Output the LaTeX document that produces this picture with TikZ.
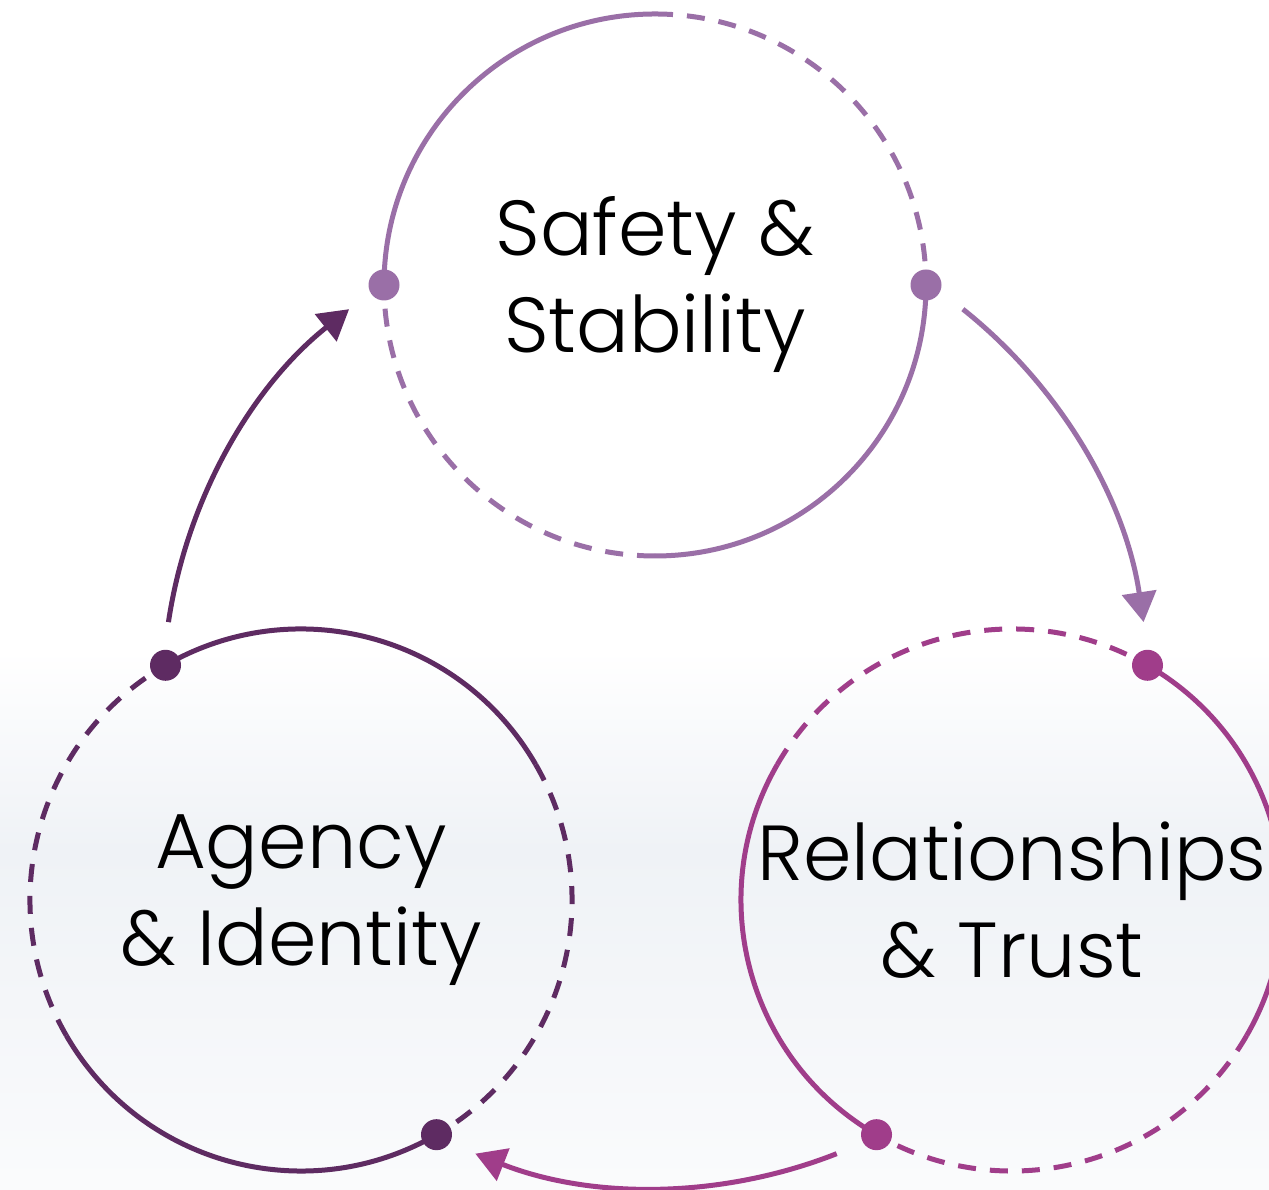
\documentclass[tikz,border=0pt]{standalone}
\usepackage{fontspec}
\setmainfont{Poppins}[UprightFont=* Light]
\usetikzlibrary{arrows.meta, positioning, calc}

\definecolor{safetyc}{HTML}{9A6FA7}
\definecolor{agencyc}{HTML}{5E2B62}
\definecolor{relatc}{HTML}{A03D8A}
\definecolor{hazec}{HTML}{EFF2F6}

\begin{document}
\begin{tikzpicture}[
    x=1pt, y=1pt,
    topic/.style={circle, minimum size=542pt, inner sep=0pt, outer sep=0pt, align=center, font=\fontsize{78}{97}\selectfont},
    ring/.style={line width=5pt},
    ringdash/.style={line width=5pt, dash pattern=on 18pt off 14pt},
    flow/.style={line width=5pt, -{Triangle[length=30pt, width=34pt]}},
    joint/.style={circle, fill, inner sep=0pt, minimum size=31pt}
]

% Background
\useasboundingbox (0,0) rectangle (1269,1190);
\fill[white] (0,0) rectangle (1269,1190);
\shade[top color=white, bottom color=hazec] (0,340) rectangle (1269,540);
\shade[top color=hazec, bottom color=hazec!30!white] (0,0) rectangle (1269,340);

% Main circles
\node[topic] (safety) at (655,905) {Safety \&\\Stability};
\node[topic] (agency) at (301,290) {Agency\\\& Identity};
\node[topic] (relat) at (1012,290) {Relationships\\\& Trust};

% Safety ring
\draw[ring, safetyc] (safety.180) arc[start angle=180, end angle=90, radius=271];
\draw[ringdash, safetyc] (safety.90) arc[start angle=90, end angle=0, radius=271];
\draw[ring, safetyc] (safety.0) arc[start angle=0, end angle=-90, radius=271];
\draw[ringdash, safetyc] (safety.-90) arc[start angle=-90, end angle=-180, radius=271];
\node[joint, safetyc] (safety-w) at (safety.180) {};
\node[joint, safetyc] (safety-e) at (safety.0) {};

% Agency ring
\draw[ring, agencyc] (agency.120) arc[start angle=120, end angle=30, radius=271];
\draw[ringdash, agencyc] (agency.30) arc[start angle=30, end angle=-60, radius=271];
\draw[ring, agencyc] (agency.-60) arc[start angle=-60, end angle=-150, radius=271];
\draw[ringdash, agencyc] (agency.-150) arc[start angle=-150, end angle=-240, radius=271];
\node[joint, agencyc] (agency-n) at (agency.120) {};
\node[joint, agencyc] (agency-s) at (agency.-60) {};

% Relationships ring
\draw[ring, relatc] (relat.60) arc[start angle=60, end angle=-30, radius=271];
\draw[ringdash, relatc] (relat.-30) arc[start angle=-30, end angle=-120, radius=271];
\draw[ring, relatc] (relat.-120) arc[start angle=-120, end angle=-210, radius=271];
\draw[ringdash, relatc] (relat.150) arc[start angle=150, end angle=60, radius=271];
\node[joint, relatc] (relat-n) at (relat.60) {};
\node[joint, relatc] (relat-s) at (relat.-120) {};

% Cycle arrows
\coordinate (hub) at (656,495);
\coordinate (safety-out) at ($(hub)+(51.5:493)$);
\coordinate (relat-out) at ($(hub)+(-68.5:493)$);
\coordinate (agency-out) at ($(hub)+(171.5:493)$);

\draw[flow, safetyc] (safety-out) arc[start angle=51.5, end angle=8.5, radius=493];
\draw[flow, relatc] (relat-out) arc[start angle=-68.5, end angle=-111.5, radius=493];
\draw[flow, agencyc] (agency-out) arc[start angle=171.5, end angle=128.5, radius=493];

\end{tikzpicture}
\end{document}
